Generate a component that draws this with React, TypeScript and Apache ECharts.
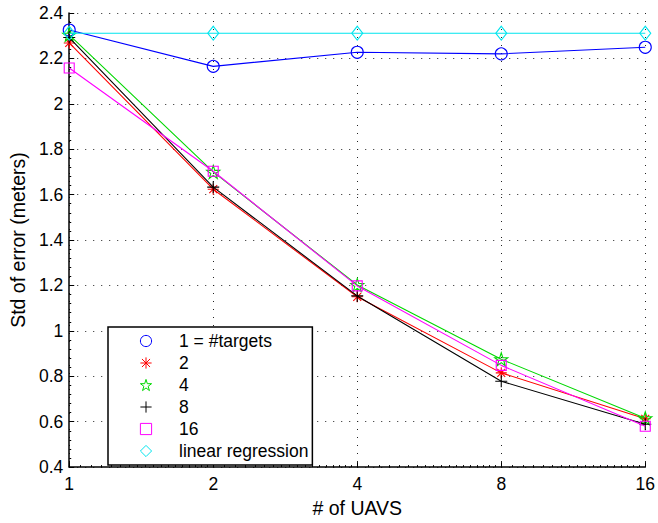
import React, { useEffect, useRef } from "react";
import * as echarts from "echarts";

const uavs = [1, 2, 4, 8, 16];
const yTicks = { min: 0.4, max: 2.4, interval: 0.2 };

const seriesNames = ["1 = #targets", "2", "4", "8", "16", "linear regression"];
const targets1 = [2.325, 2.165, 2.227, 2.22, 2.249];
const targets2 = [2.268, 1.624, 1.15, 0.815, 0.613];
const targets4 = [2.304, 1.7, 1.202, 0.875, 0.615];
const targets8 = [2.292, 1.633, 1.154, 0.778, 0.589];
const targets16 = [2.158, 1.703, 1.198, 0.848, 0.58];
const linReg = [2.311, 2.311, 2.311, 2.311, 2.311];

const colors = ["#0000ff", "#ff0000", "#00d800", "#000000", "#ff00ff", "#00e5ee"];

const ASTERISK = "path://M0,-50L0,50M-50,0L50,0M-36,-36L36,36M-36,36L36,-36";
const PLUS = "path://M0,-50L0,50M-50,0L50,0";
const PENTAGRAM =
  "path://M0,-100L22.45,-30.9L95.1,-30.9L36.3,11.8L58.8,80.9L0,38.2L-58.8,80.9L-36.3,11.8L-95.1,-30.9L-22.45,-30.9Z";
const DIAMOND = "path://M0,-70L60,0L0,70L-60,0Z";
const SQUARE = "path://M-50,-50L50,-50L50,50L-50,50Z";
const CIRCLE = "circle";

const symbols = [CIRCLE, ASTERISK, PENTAGRAM, PLUS, SQUARE, DIAMOND];
const symbolSizes: any[] = [12, 11, 13, 12, 10, [11, 14]];
const values = [targets1, targets2, targets4, targets8, targets16, linReg];

export default function App() {
  const ref = useRef<HTMLDivElement>(null);
  useEffect(() => {
    if (!ref.current) return;
    const chart = echarts.init(ref.current, null, { renderer: "svg" });
    const font = "'Liberation Sans', Arial, Helvetica, sans-serif";
    chart.setOption({
      animation: false,
      textStyle: { fontFamily: font },
      grid: { left: 66, right: 11, top: 13, bottom: 52, containLabel: false },
      xAxis: {
        type: "log",
        logBase: 2,
        min: 1,
        max: 16,
        name: "# of UAVS",
        nameLocation: "middle",
        nameGap: 24,
        nameTextStyle: { fontSize: 19.5, color: "#000", fontFamily: font },
        axisLine: { show: true, onZero: false, lineStyle: { color: "#000", width: 1.5 } },
        axisTick: { show: true, inside: true, length: 5, lineStyle: { color: "#000" } },
        minorTick: { show: true, splitNumber: 18, length: 2, lineStyle: { color: "#000" } },
        axisLabel: { fontSize: 17.5, color: "#000", margin: 8, fontFamily: font },
        splitLine: { show: true, lineStyle: { color: "#222", type: [1, 7], width: 1 } },
      },
      yAxis: {
        type: "value",
        min: yTicks.min,
        max: yTicks.max,
        interval: yTicks.interval,
        name: "Std of error (meters)",
        nameLocation: "middle",
        nameGap: 41,
        nameTextStyle: { fontSize: 19.5, color: "#000", fontFamily: font },
        axisLine: { show: true, lineStyle: { color: "#000", width: 1.5 } },
        axisTick: { show: true, inside: true, length: 5, lineStyle: { color: "#000" } },
        minorTick: { show: true, splitNumber: 5, length: 2, lineStyle: { color: "#000" } },
        axisLabel: { fontSize: 17.5, color: "#000", margin: 6, fontFamily: font },
        splitLine: { show: true, lineStyle: { color: "#222", type: [1, 7], width: 1 } },
      },
      legend: {
        orient: "vertical",
        left: 108,
        top: 327,
        padding: [5, 4, 5, 31],
        itemGap: 4,
        itemWidth: 14,
        itemHeight: 14,
        borderColor: "#000",
        borderWidth: 1.5,
        backgroundColor: "#fff",
        lineStyle: { width: 0, color: "transparent", opacity: 0 },
        textStyle: { fontSize: 17.5, lineHeight: 18, color: "#000", fontFamily: font, padding: [0, 0, 0, 21] },
        data: seriesNames.map((name, i) => ({
          name,
          itemStyle: { color: "transparent", borderColor: colors[i], borderWidth: 1 },
        })),
      },
      series: seriesNames.map((name, i) => ({
        name,
        type: "line",
        data: uavs.map((u, j) => [u, values[i][j]]),
        symbol: symbols[i],
        symbolSize: symbolSizes[i],
        showSymbol: true,
        lineStyle: { color: colors[i], width: 1.1 },
        itemStyle: { color: "transparent", borderColor: colors[i], borderWidth: 1.1 },
        emphasis: { disabled: true },
        z: 2 + i,
      })),
    });
    return () => chart.dispose();
  }, []);
  return <div ref={ref} style={{ width: 658, height: 523, position: "absolute", left: 0, top: 0 }} />;
}
